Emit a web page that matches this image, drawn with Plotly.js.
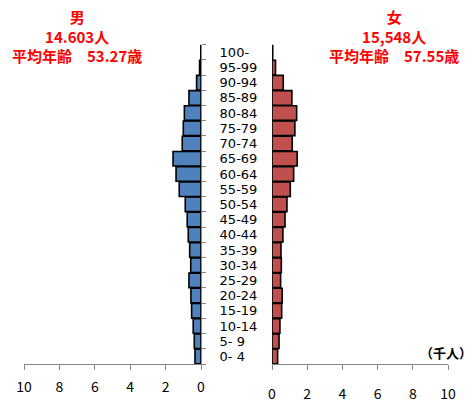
<!DOCTYPE html>
<html><head><meta charset="utf-8">
<script src="https://cdn.plot.ly/plotly-3.0.1.min.js"></script>
<style>html,body{margin:0;padding:0;background:#fff}</style>
</head><body>
<div id="chart" style="width:476px;height:410px"></div>
<script>
const ages = ["0- 4","5- 9","10-14","15-19","20-24","25-29","30-34","35-39","40-44","45-49","50-54","55-59","60-64","65-69","70-74","75-79","80-84","85-89","90-94","95-99","100-"];
const male = [0.34,0.38,0.44,0.53,0.57,0.68,0.58,0.64,0.72,0.78,0.89,1.23,1.41,1.58,1.06,1.0,0.94,0.68,0.25,0.08,0.01];
const female = [0.32,0.40,0.45,0.55,0.58,0.49,0.53,0.51,0.62,0.74,0.85,1.04,1.23,1.43,1.15,1.3,1.4,1.13,0.64,0.2,0.04];
const tickVals = [0,2,4,6,8,10];
const maleTitle = ["男","14.603人","平均年齢　53.27歳"];
const femaleTitle = ["女","15,548人","平均年齢　57.55歳"];
const unitLabel = "（千人）";

const W = 476, H = 410;
const px = v => v / W, py = v => 1 - v / H;
const FONT = "Noto Sans CJK JP, sans-serif";
const GRAY = "#868686";

const traces = [
  {type:"bar", orientation:"h", y:ages, x:male, xaxis:"x", yaxis:"y",
   marker:{color:"#4F81BD", line:{color:"#000", width:1.6}}, hoverinfo:"x+y"},
  {type:"bar", orientation:"h", y:ages, x:female, xaxis:"x2", yaxis:"y",
   marker:{color:"#C0504D", line:{color:"#000", width:1.6}}, hoverinfo:"x+y"}
];

const xCommon = {showgrid:false, zeroline:false, showline:true, linecolor:GRAY, linewidth:1,
  ticks:"outside", ticklen:5, tickcolor:GRAY, tickvals:tickVals, fixedrange:true,
  tickfont:{family:FONT, size:14, color:"#000"}};

const titleText = arr => arr.map(t => "<b>" + t + "</b>").join("<br>");
const annotations = [
  {xref:"paper",yref:"paper",x:px(77),y:py(36),text:titleText(maleTitle),showarrow:false,
   xanchor:"center",yanchor:"middle",align:"center",font:{family:FONT,size:15,color:"#FF0000"}},
  {xref:"paper",yref:"paper",x:px(394),y:py(36),text:titleText(femaleTitle),showarrow:false,
   xanchor:"center",yanchor:"middle",align:"center",font:{family:FONT,size:15,color:"#FF0000"}},
  {xref:"paper",yref:"paper",x:px(446),y:py(352),text:"<b>"+unitLabel+"</b>",
   showarrow:false,xanchor:"center",yanchor:"middle",font:{family:FONT,size:13,color:"#000"}}
];

const layout = {
  width:W, height:H, margin:{l:0,r:0,t:0,b:0}, paper_bgcolor:"#fff", plot_bgcolor:"rgba(0,0,0,0)",
  showlegend:false, bargap:0.04,
  xaxis:Object.assign({}, xCommon, {domain:[px(24),px(201)], range:[10,0], anchor:"y",
    ticklabelstandoff:5}),
  xaxis2:Object.assign({}, xCommon, {domain:[px(272),px(448)], range:[0,10], anchor:"y",
    ticklabelstandoff:12, ticklabelshift:3.5}),
  xaxis3:Object.assign({}, xCommon, {domain:[px(201),px(272)], range:[0,2], anchor:"y",
    tickvals:[1], showticklabels:false}),
  yaxis:{domain:[1-364/H, 1-44.7/H], anchor:"x", side:"right", type:"category",
    categoryorder:"array", categoryarray:ages, range:[-0.5,20.5],
    tickmode:"array", tickvals:ages, ticktext:ages,
    showline:true, linecolor:GRAY, linewidth:1, ticks:"outside", ticklen:4, tickcolor:GRAY,
    tickson:"boundaries", showgrid:false, zeroline:false, fixedrange:true,
    ticklabelstandoff:15, tickfont:{family:"DejaVu Sans, sans-serif",size:13,color:"#000"}},
  annotations:annotations
};
Plotly.newPlot("chart", traces, layout, {displayModeBar:false, staticPlot:true});
</script>
</body></html>
